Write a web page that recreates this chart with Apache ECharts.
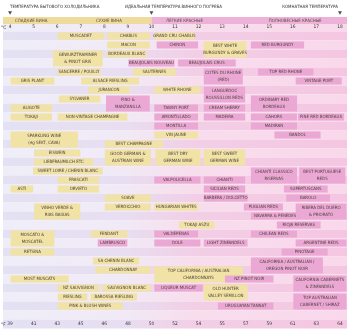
<!DOCTYPE html>
<html>
<head>
<meta charset="utf-8">
<script src="https://cdn.jsdelivr.net/npm/echarts@6/dist/echarts.min.js"></script>
<style>
  html, body { margin: 0; padding: 0; background: #ffffff; }
  #chart { width: 350px; height: 332px; }
</style>
</head>
<body>
<div id="chart"></div>
<script>
// Serving-temperature scale (°C) and the matching Fahrenheit readings
const celsiusTicks = [4, 5, 6, 7, 8, 9, 10, 11, 12, 13, 14, 15, 16, 17, 18];
const fahrenheitLabels = ['39', '41', '43', '45', '46', '48', '50', '52', '54', '55', '57', '59', '61', '63', '64'];

// Reference temperatures marked above the scale
const markerTemps = [4, 10, 18];

// Style bands: [label, centre temperature]
const whiteBandLabels = [['СЛАДКИЕ ВИНА', 4.9], ['СУХИЕ ВИНА', 8.2]];
const redBandLabels = [['ЛЕГКИЕ КРАСНЫЕ', 11.4], ['ПОЛНОВЕСНЫЕ КРАСНЫЕ', 16.1]];
const whiteBandRange = [3.7, 10];
const redBandRange = [10, 18.3];

// White wines: [name, from °C, to °C, row, rows spanned]
const whiteWines = [
  ['MUSCADET', 6, 8, 0, 1],
  ['CHABLIS', 8.1, 9.95, 0, 1],
  ['GRAND CRU CHABLIS', 10.1, 11.85, 0, 1],
  ['MACON', 8.1, 9.95, 1, 1],
  ['BEST WHITE\nBURGUNDY & GRAVES', 12.2, 14.05, 1, 2],
  ['GEWURZTRAMINER\n& PINOT GRIS', 5.8, 7.95, 2, 2],
  ['BORDEAUX BLANC', 8.1, 9.8, 2, 1],
  ['SANCERRE / POUILLY', 6, 7.85, 4, 1],
  ['SAUTERNES', 9.2, 11.05, 4, 1],
  ['GRIS PLANT', 4, 5.9, 5, 1],
  ['ALSACE RIESLING', 7, 9.5, 5, 1],
  ['JURANCON', 7.3, 9.1, 6, 1],
  ['WHITE RHONE', 10.1, 12.1, 6, 1],
  ['SYLVANER', 6.05, 7.85, 7, 1],
  ['ALIGOTE', 4, 5.8, 8, 1],
  ['TOKAJI', 4, 5.8, 9, 1],
  ['NON-VINTAGE CHAMPAGNE', 6, 9, 9, 1],
  ['VIN JAUNE', 10.1, 12, 11, 1],
  ['SPARKLING WINE\n(eg SEKT, CAVA)', 4, 6.9, 11, 2],
  ['BEST CHAMPAGNE', 8, 10.5, 12, 1],
  ['EISWEIN', 5, 7, 13, 1],
  ['GOOD GERMAN &\nAUSTRIAN WINE', 8, 10, 13, 2],
  ['BEST DRY\nGERMAN WINE', 10.15, 12.1, 13, 2],
  ['BEST SWEET\nGERMAN WINE', 12.2, 14, 13, 2],
  ['LIEBFRAUMILCH ETC', 5, 7.55, 14, 1],
  ['SWEET LOIRE / CHENIN BLANC', 4.95, 7.95, 15, 1],
  ['FRASCATI', 6, 7.8, 16, 1],
  ['ASTI', 4, 5, 17, 1],
  ['ORVIETO', 6, 7.8, 17, 1],
  ['SOAVE', 8, 10, 18, 1],
  ['VINHO VERDE &\nRIAS BAIXAS', 5, 7, 19, 2],
  ['VERDICCHIO', 8, 10, 19, 1],
  ['HUNGARIAN WHITES', 10.1, 12, 19, 1],
  ['TOKAJI ASZU', 11.15, 12.7, 21, 1],
  ['MOSCATO &\nMOSCATEL', 4, 5.9, 22, 2],
  ['FENDANT', 7.4, 9, 22, 1],
  ['RETSINA', 4, 5.9, 24, 1],
  ['SA CHENIN BLANC', 7.5, 9.5, 25, 1],
  ['CHARDONNAY', 7.6, 10, 26, 1],
  ['TOP CALIFORNIA / AUSTRALIAN\nCHARDONNAYS', 10.1, 13.9, 26, 2],
  ['MOST MUSCATS', 4, 6.5, 27, 1],
  ['NZ SAUVIGNON', 6, 7.8, 28, 1],
  ['SAUVIGNON BLANC', 7.9, 10, 28, 1],
  ['OLD HUNTER\nVALLEY SEMILLON', 12.2, 14.1, 28, 2],
  ['RIESLING', 6, 7.3, 29, 1],
  ['BAROSSA RIESLING', 7.4, 9.4, 29, 1],
  ['PINK & BLUSH WINES', 6, 8.8, 30, 1]
];

// Red and fortified wines: [name, from °C, to °C, row, rows spanned]
const redWines = [
  ['CHINON', 10.2, 12, 1, 1],
  ['RED BURGUNDY', 14.2, 16.5, 1, 1],
  ['BEAUJOLAIS NOUVEAU', 9, 11, 3, 1],
  ['BEAUJOLAIS CRUS', 11.1, 13.6, 3, 1],
  ['COTES DU RHONE\n(RED)', 12.2, 13.9, 4, 2],
  ['TOP RED RHONE', 14.5, 16.9, 4, 1],
  ['VINTAGE PORT', 16.1, 18.1, 5, 1],
  ['LANGUEDOC\nROUSSILLON REDS', 12.2, 14, 6, 2],
  ['FINO &\nMANZANILLA', 8.05, 9.95, 7, 2],
  ['ORDINARY RED\nBORDEAUX', 14.2, 16.2, 7, 2],
  ['TAWNY PORT', 10.1, 12, 8, 1],
  ['CREAM SHERRY', 12.2, 14, 8, 1],
  ['AMONTILLADO', 10.1, 12, 9, 1],
  ['MADEIRA', 12.2, 14, 9, 1],
  ['CAHORS', 14.2, 16.2, 9, 1],
  ['FINE RED BORDEAUX', 16.2, 18.2, 9, 1],
  ['MONTILLA', 10.1, 12, 10, 1],
  ['MADIRAN', 14.2, 16.2, 10, 1],
  ['BANDOL', 15.2, 17.2, 11, 1],
  ['CHIANTI CLASSICO\nRISERVAS', 14.2, 16.2, 15, 2],
  ['BEST PORTUGUESE\nREDS', 16.25, 18.25, 15, 2],
  ['VALPOLICELLA', 10.1, 12.1, 16, 1],
  ['CHIANTI', 12.2, 14, 16, 1],
  ['SICILIAN REDS', 12.2, 14, 17, 1],
  ['SUPERTUSCANS', 15.6, 17.5, 17, 1],
  ['BARBERA / DOLCETTO', 12.2, 14.1, 18, 1],
  ['BAROLO', 15.7, 17.6, 18, 1],
  ['PUGLIAN REDS', 13.9, 15.6, 19, 1],
  ['RIBERA DEL DUERO\n& PRIORATO', 16.1, 18.3, 19, 2],
  ['NAVARRA & PENEDES', 14.2, 16.3, 20, 1],
  ['RIOJA RESERVAS', 15.3, 17.2, 21, 1],
  ['VALDEPENAS', 10.1, 12, 22, 1],
  ['CHILEAN REDS', 14.2, 16.2, 22, 1],
  ['LAMBRUSCO', 7.7, 9, 23, 1],
  ['DOLE', 10.1, 12.1, 23, 1],
  ['LIGHT ZINFANDELS', 12.2, 14.1, 23, 1],
  ['ARGENTINE REDS', 16.1, 18.3, 23, 1],
  ['PINOTAGE', 15.5, 17.5, 24, 1],
  ['CALIFORNIA / AUSTRALIAN /\nOREGON PINOT NOIR', 14.2, 17.3, 25, 2],
  ['NZ PINOT NOIR', 13.1, 15.2, 27, 1],
  ['CALIFORNIA CABERNETS\n& ZINFANDELS', 16, 18.3, 27, 2],
  ['LIQUEUR MUSCAT', 10.1, 12.2, 28, 1],
  ['TOP AUSTRALIAN\nCABERNET / SHIRAZ', 16, 18.3, 29, 2],
  ['URUGUAYAN TANNAT', 12.8, 15.2, 30, 1]
];

// Background rows, including the label rows above and below the table
const stripeRows = [];
for (let r = -1; r <= 32; r++) stripeRows.push(r);

const X_MIN = 3.7, X_MAX = 18.3;
const FONT = "'Liberation Sans Narrow', 'DejaVu Sans Condensed', Roboto, sans-serif";
const TEXT = '#4a3f3b';
const WHITE_FILL = '#f1e2a5';
const RED_FILL = '#eca8d4';

const chart = echarts.init(document.getElementById('chart'), null, { renderer: 'canvas' });

function stripeFill(dark) {
  return new echarts.graphic.LinearGradient(0, 0, 1, 0, dark ? [
    { offset: 0, color: '#e3e1f3' },
    { offset: 0.35, color: '#e8def1' },
    { offset: 0.55, color: '#f2cfe6' },
    { offset: 1, color: '#f5c6e1' }
  ] : [
    { offset: 0, color: '#efeef8' },
    { offset: 0.35, color: '#f1eaf6' },
    { offset: 0.55, color: '#f8dded' },
    { offset: 1, color: '#f9d8eb' }
  ]);
}

function renderStripe(params, api) {
  const r = api.value(0);
  const a = api.coord([X_MIN, r - 0.5]);
  const b = api.coord([X_MAX, r + 0.5]);
  return {
    type: 'rect',
    shape: { x: a[0], y: a[1], width: b[0] - a[0], height: b[1] - a[1] },
    style: { fill: stripeFill(r % 2 === 0) },
    silent: true
  };
}

function wineRenderer(list, fill) {
  return function (params, api) {
    const item = list[params.dataIndex];
    const a = api.coord([api.value(0), api.value(2) - 0.5]);
    const b = api.coord([api.value(1), api.value(2) + api.value(3) - 0.5]);
    return {
      type: 'rect',
      shape: { x: a[0] + 0.5, y: a[1] + 1, width: b[0] - a[0] - 1, height: b[1] - a[1] - 2 },
      style: { fill: fill },
      textContent: {
        style: {
          text: item[0], fill: TEXT, fontSize: 4.4, fontFamily: FONT,
          align: 'center', verticalAlign: 'middle', lineHeight: 7
        }
      },
      textConfig: { position: 'inside' }
    };
  };
}

function bandRenderer(range, labels, fill) {
  return function (params, api) {
    const a = api.coord([range[0], 0]);
    const b = api.coord([range[1], 1]);
    const children = [{
      type: 'rect',
      shape: { x: a[0], y: b[1], width: b[0] - a[0], height: a[1] - b[1] },
      style: { fill: fill }
    }];
    labels.forEach(function (l) {
      const p = api.coord([l[1], 0.5]);
      children.push({
        type: 'text',
        style: {
          x: p[0], y: p[1], text: l[0], fill: '#5a4a44', fontSize: 4.4, fontFamily: FONT,
          align: 'center', verticalAlign: 'middle'
        }
      });
    });
    return { type: 'group', children: children };
  };
}

const hiddenX = function (gridIndex) {
  return {
    type: 'value', gridIndex: gridIndex, min: X_MIN, max: X_MAX, show: false
  };
};

const option = {
  animation: false,
  backgroundColor: '#ffffff',
  grid: [
    { left: 3, right: 3, top: 22.5, bottom: 3.5 },
    { left: 3, right: 3, top: 17, height: 7 },
    { left: 3, right: 3, top: 11.5, height: 3 }
  ],
  xAxis: [
    {
      type: 'value', gridIndex: 0, position: 'top', min: X_MIN, max: X_MAX, z: 20,
      axisLine: { show: false }, axisTick: { show: false }, splitLine: { show: false },
      axisLabel: {
        inside: true, margin: 2, customValues: celsiusTicks,
        fontSize: 4.8, fontFamily: FONT, color: '#333333'
      }
    },
    {
      type: 'value', gridIndex: 0, position: 'bottom', min: X_MIN, max: X_MAX, z: 20,
      axisLine: { show: false }, axisTick: { show: false }, splitLine: { show: false },
      axisLabel: {
        inside: true, margin: 2, customValues: celsiusTicks,
        fontSize: 4.8, fontFamily: FONT, color: '#333333',
        formatter: function (v) { return fahrenheitLabels[celsiusTicks.indexOf(Math.round(v))]; }
      }
    },
    hiddenX(1),
    hiddenX(2)
  ],
  yAxis: [
    { type: 'value', gridIndex: 0, min: -1.5, max: 32.5, inverse: true, show: false },
    { type: 'value', gridIndex: 1, min: 0, max: 1, show: false },
    { type: 'value', gridIndex: 2, min: 0, max: 1, show: false }
  ],
  graphic: [
    { type: 'text', left: 10, top: 5, z: 30, style: { text: 'ТЕМПЕРАТУРА БЫТОВОГО ХОЛОДИЛЬНИКА', fill: '#333', fontSize: 4.4, fontFamily: FONT } },
    { type: 'text', left: 125, top: 5, z: 30, style: { text: 'ИДЕАЛЬНАЯ ТЕМПЕРАТУРА ВИННОГО ПОГРЕБА', fill: '#333', fontSize: 4.4, fontFamily: FONT } },
    { type: 'text', right: 12, top: 5, z: 30, style: { text: 'КОМНАТНАЯ ТЕМПЕРАТУРА', fill: '#333', fontSize: 4.4, fontFamily: FONT } },
    { type: 'text', left: 1, top: 24.8, z: 30, style: { text: '°C', fill: '#333', fontSize: 4.8, fontFamily: FONT } },
    { type: 'text', left: 1, top: 321.8, z: 30, style: { text: '°F', fill: '#333', fontSize: 4.8, fontFamily: FONT } }
  ],
  series: [
    {
      type: 'custom', name: 'rows', xAxisIndex: 0, yAxisIndex: 0,
      data: stripeRows.map(function (r) { return [r]; }),
      renderItem: renderStripe, silent: true, z: 1
    },
    {
      type: 'custom', name: 'white band', xAxisIndex: 2, yAxisIndex: 1,
      data: [[0]], renderItem: bandRenderer(whiteBandRange, whiteBandLabels, '#efdc9c'), silent: true
    },
    {
      type: 'custom', name: 'red band', xAxisIndex: 2, yAxisIndex: 1,
      data: [[0]], renderItem: bandRenderer(redBandRange, redBandLabels, '#eeb2d8'), silent: true
    },
    {
      type: 'scatter', name: 'markers', xAxisIndex: 3, yAxisIndex: 2,
      data: markerTemps.map(function (t) { return [t, 0.5]; }),
      symbol: 'triangle', symbolRotate: 180, symbolSize: [4, 3.5],
      itemStyle: { color: '#222222' }, silent: true
    },
    {
      type: 'custom', name: 'white wines', xAxisIndex: 0, yAxisIndex: 0,
      data: whiteWines.map(function (w) { return [w[1], w[2], w[3], w[4]]; }),
      renderItem: wineRenderer(whiteWines, WHITE_FILL), z: 3
    },
    {
      type: 'custom', name: 'red wines', xAxisIndex: 0, yAxisIndex: 0,
      data: redWines.map(function (w) { return [w[1], w[2], w[3], w[4]]; }),
      renderItem: wineRenderer(redWines, RED_FILL), z: 3
    }
  ]
};

chart.setOption(option);
</script>
</body>
</html>
